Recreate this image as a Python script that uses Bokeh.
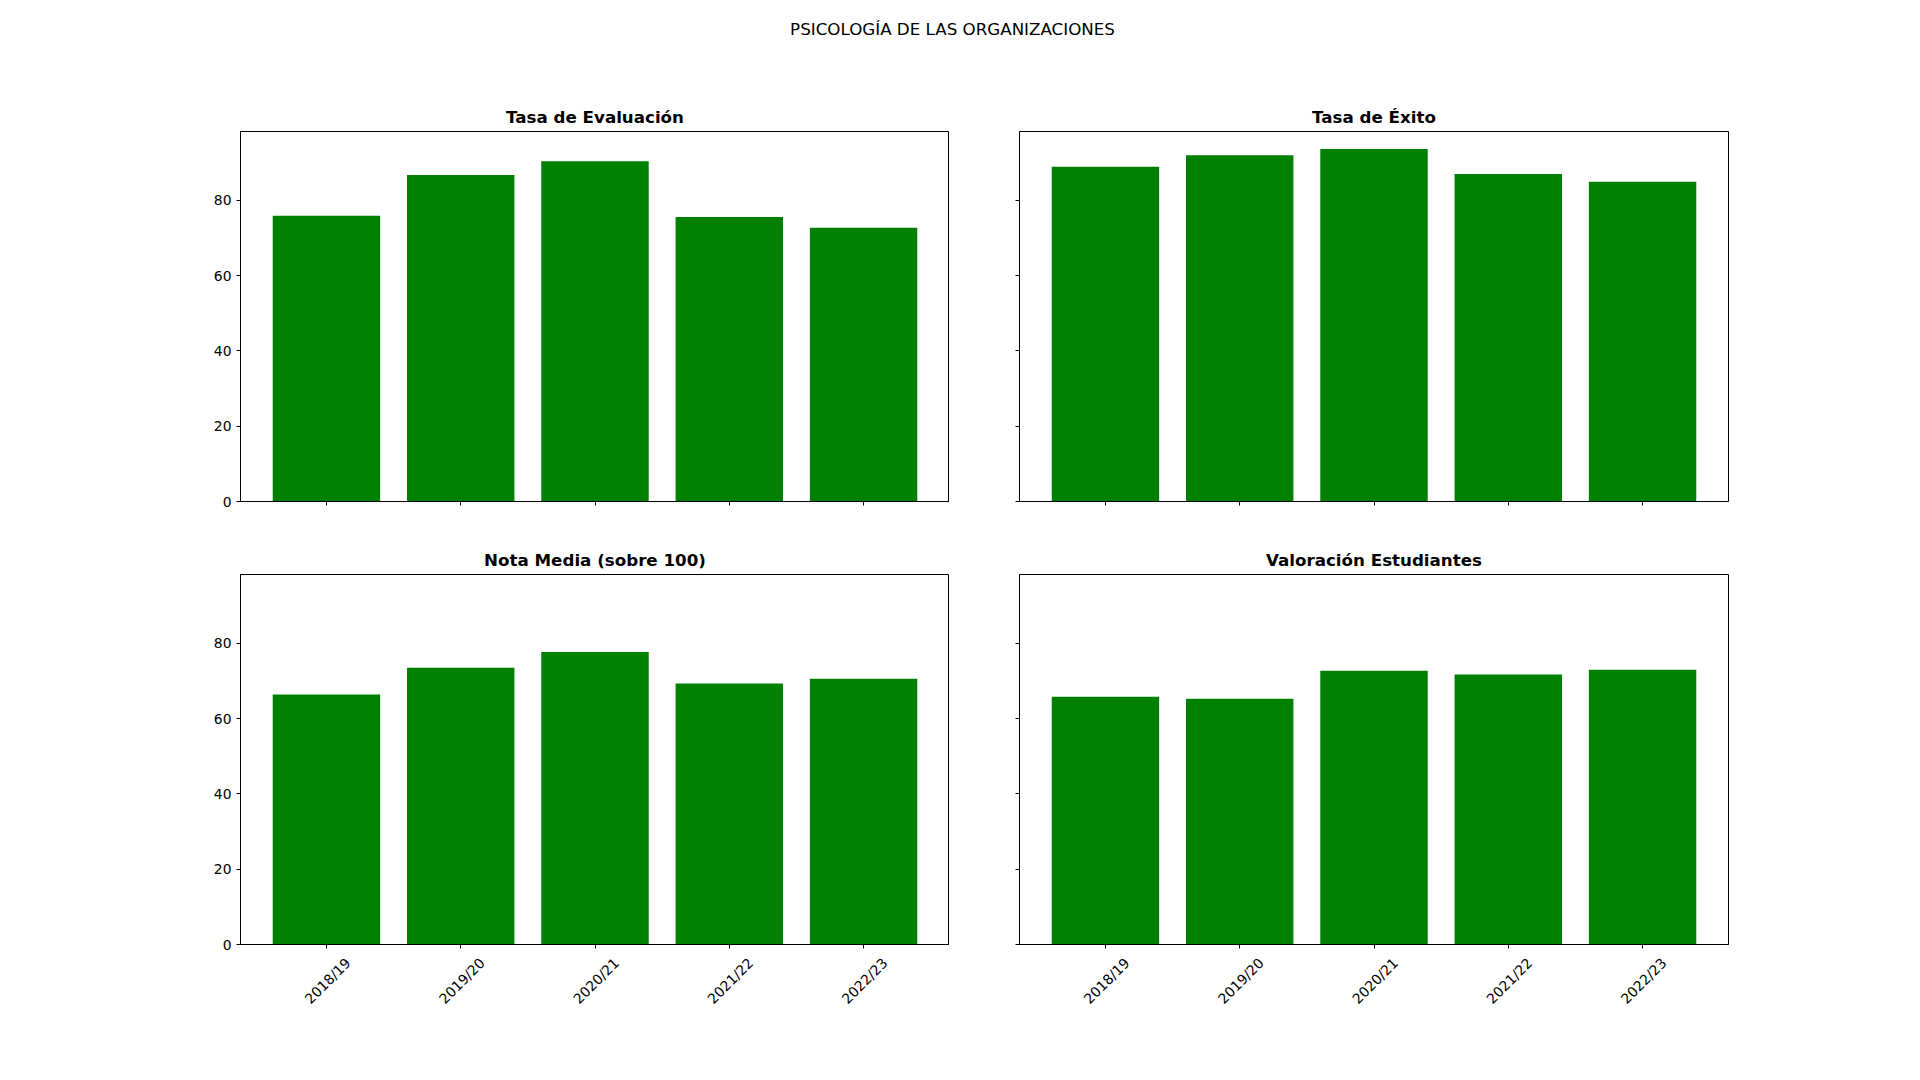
from bokeh.plotting import figure
from bokeh.layouts import column, row
from bokeh.models import Range1d, FixedTicker, LinearAxis
from bokeh.core.properties import value
from bokeh.embed import file_html
from bokeh.resources import INLINE

suptitle = "PSICOLOGÍA DE LAS ORGANIZACIONES"
years = ["2018/19", "2019/20", "2020/21", "2021/22", "2022/23"]
titles = ["Tasa de Evaluación", "Tasa de Éxito", "Nota Media (sobre 100)", "Valoración Estudiantes"]
tasa_evaluacion = [75.9, 86.7, 90.4, 75.6, 72.7]
tasa_exito = [88.9, 92.0, 93.6, 87.0, 84.9]
nota_media = [66.4, 73.5, 77.7, 69.3, 70.6]
valoracion = [65.8, 65.3, 72.7, 71.7, 73.0]
y_ticks = [0, 20, 40, 60, 80]

FONT = "DejaVu Sans"
GREEN = "#008000"
FW, FH = 709, 370
XLO, XHI = -0.64, 4.64
LABEL_SHIFT = 0.16
YMAX = max(max(tasa_evaluacion), max(tasa_exito), max(nota_media), max(valoracion)) * 1.05


def style_axis(ax):
    ax.axis_line_color = "black"
    ax.major_tick_line_color = "black"
    ax.major_tick_out = 4
    ax.major_tick_in = 0
    ax.minor_tick_line_color = None
    ax.major_label_text_font = FONT
    ax.major_label_text_font_size = "13.9px"
    ax.major_label_text_color = "black"


def panel(title, vals, show_y, show_x, mb):
    p = figure(frame_width=FW, frame_height=FH, output_backend="svg", toolbar_location=None,
               x_range=Range1d(XLO, XHI), y_range=Range1d(0, YMAX),
               min_border_left=mb[0], min_border_right=mb[1], min_border_top=mb[2], min_border_bottom=mb[3])
    xs = list(range(len(years)))
    p.vbar(x=xs, top=vals, width=0.8, bottom=0, fill_color=GREEN, line_color=None)
    p.title.text = title
    p.title.text_font = FONT
    p.title.text_font_size = "16.7px"
    p.title.text_font_style = "bold"
    p.title.align = "center"
    p.title.text_color = "black"
    p.outline_line_color = "black"
    p.outline_line_width = 1
    p.xgrid.visible = False
    p.ygrid.visible = False
    p.background_fill_color = "white"
    p.border_fill_color = "white"
    style_axis(p.xaxis[0])
    style_axis(p.yaxis[0])
    p.xaxis.ticker = FixedTicker(ticks=xs)
    p.yaxis.ticker = FixedTicker(ticks=y_ticks)
    p.xaxis.major_label_overrides = {i: "" for i in xs}
    if show_x:
        p.xaxis[0].major_label_standoff = 0
        p.extra_x_ranges = {"lab": Range1d(XLO - LABEL_SHIFT, XHI - LABEL_SHIFT)}
        lab = LinearAxis(x_range_name="lab", ticker=FixedTicker(ticks=xs),
                         major_label_overrides={i: y for i, y in enumerate(years)})
        style_axis(lab)
        lab.axis_line_color = None
        lab.major_tick_line_color = None
        lab.major_tick_out = 0
        lab.major_label_standoff = 12
        lab.major_label_orientation = 0.785398
        p.add_layout(lab, "below")
    if not show_y:
        p.yaxis.major_label_overrides = {t: "" for t in y_ticks}
    return p


head = figure(width=1904, height=48, output_backend="svg", toolbar_location=None,
              x_range=Range1d(0, 1), y_range=Range1d(0, 1),
              min_border_left=0, min_border_right=0, min_border_top=0, min_border_bottom=0)
head.axis.visible = False
head.grid.visible = False
head.outline_line_color = None
head.text(x=[0.5], y=[1 - 28 / 48], text=[suptitle], text_font=value(FONT), text_font_size="16.7px",
          text_align="center", text_baseline="middle", text_color="black")

p1 = panel(titles[0], tasa_evaluacion, True, False, (240, 0, 83, 40))
p2 = panel(titles[1], tasa_exito, False, False, (70, 176, 83, 40))
p3 = panel(titles[2], nota_media, True, True, (240, 0, 33, 100))
p4 = panel(titles[3], valoracion, False, True, (70, 176, 33, 100))

layout = column(head, row(p1, p2), row(p3, p4))
open("out.html", "w").write(file_html(layout, INLINE))
